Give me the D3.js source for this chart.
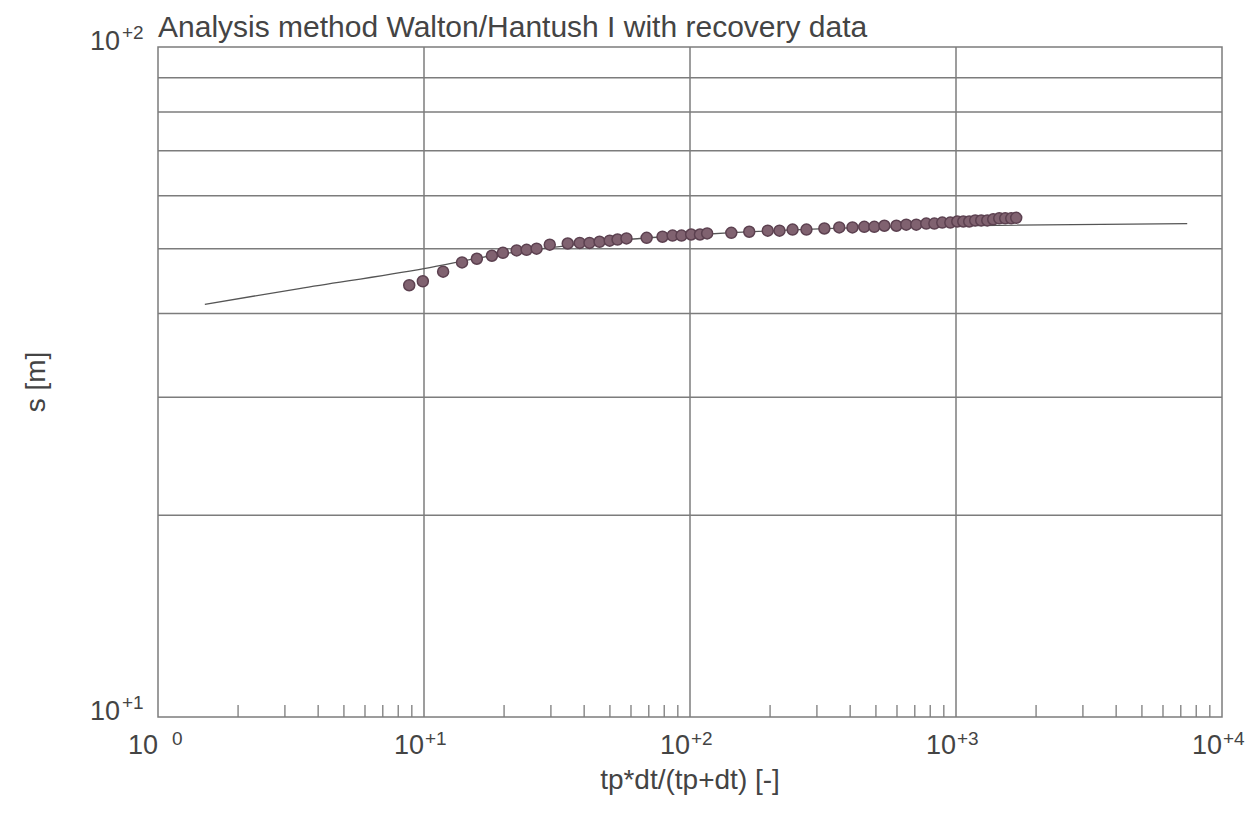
<!DOCTYPE html>
<html lang="en">
<head>
<meta charset="utf-8">
<title>Walton/Hantush I recovery</title>
<script src="https://d3js.org/d3.v7.min.js"></script>
<style>
body { margin: 0; background: #fff; }
text { font-family: "Liberation Sans", Arial, Helvetica, sans-serif; fill: #444; }
</style>
</head>
<body>
<script>
var w = 1257, h = 813;
var margin = {top: 47, right: 35, bottom: 96, left: 158};

// observed recovery data: tp*dt/(tp+dt) [-] vs s [m]
var obsX = [8.8, 9.9, 11.8, 13.9, 15.8, 18.0, 19.8, 22.3, 24.3, 26.5,
            29.7, 34.7, 38.5, 41.9, 45.7, 49.9, 53.4, 57.7, 68.7, 78.8,
            86.0, 92.9, 101, 109, 116, 143, 167, 196, 217, 243,
            274, 320, 364, 408, 452, 493, 538, 597, 650, 709,
            773, 829, 888, 952, 1011, 1065, 1121, 1181, 1244, 1311,
            1380, 1454, 1531, 1613, 1684];
var obsS = [44.1, 44.7, 46.2, 47.7, 48.3, 48.8, 49.3, 49.7, 49.8, 50.0,
            50.7, 50.9, 51.0, 51.0, 51.2, 51.4, 51.6, 51.8, 51.9, 52.1,
            52.3, 52.3, 52.5, 52.5, 52.7, 52.8, 53.0, 53.2, 53.2, 53.4,
            53.4, 53.6, 53.8, 53.8, 53.9, 53.9, 54.1, 54.1, 54.3, 54.3,
            54.5, 54.5, 54.7, 54.7, 54.9, 54.9, 54.9, 55.1, 55.1, 55.1,
            55.3, 55.5, 55.5, 55.5, 55.6];

// fitted type curve
var fitX = [1.5, 3.4, 10, 19, 30, 46, 110, 260, 1000, 7400];
var fitS = [41.3, 43.6, 46.7, 49.0, 50.2, 51.2, 52.5, 53.4, 54.1, 54.5];

// axis decades and their exponent labels
var xDecades = [1, 10, 100, 1000, 10000];
var xExp = ["0", "+1", "+2", "+3", "+4"];
var yDecades = [10, 100];
var yExp = ["+1", "+2"];

var svg = d3.select("body").append("svg")
    .attr("width", w)
    .attr("height", h);

var x = d3.scaleLog().domain([1, 10000]).range([margin.left, w - margin.right]);
var y = d3.scaleLog().domain([10, 100]).range([h - margin.bottom, margin.top]);

var gridCol = "#7c7c7c";

// horizontal grid at every 10..100 step
svg.append("g").selectAll("line")
    .data(y.ticks().filter(function(d){ return d > 10 && d < 100; }))
    .enter().append("line")
    .attr("x1", x.range()[0]).attr("x2", x.range()[1])
    .attr("y1", function(d){ return y(d); })
    .attr("y2", function(d){ return y(d); })
    .attr("stroke", gridCol).attr("stroke-width", 1.5);

// vertical grid at decades
svg.append("g").selectAll("line")
    .data(xDecades.slice(1, -1))
    .enter().append("line")
    .attr("x1", function(d){ return x(d); })
    .attr("x2", function(d){ return x(d); })
    .attr("y1", y.range()[0]).attr("y2", y.range()[1])
    .attr("stroke", gridCol).attr("stroke-width", 1.5);

// minor ticks on bottom axis
svg.append("g").selectAll("line")
    .data(x.ticks().filter(function(d){ return xDecades.indexOf(d) < 0; }))
    .enter().append("line")
    .attr("x1", function(d){ return x(d); })
    .attr("x2", function(d){ return x(d); })
    .attr("y1", y.range()[0]).attr("y2", y.range()[0] - 12)
    .attr("stroke", gridCol).attr("stroke-width", 1.3);

// frame
svg.append("rect")
    .attr("x", x.range()[0]).attr("y", y.range()[1])
    .attr("width", x.range()[1] - x.range()[0])
    .attr("height", y.range()[0] - y.range()[1])
    .attr("fill", "none").attr("stroke", gridCol).attr("stroke-width", 1.5);

// fitted curve
var fit = fitX.map(function(d, i){ return [d, fitS[i]]; });
svg.append("path")
    .datum(fit)
    .attr("fill", "none")
    .attr("stroke", "#555")
    .attr("stroke-width", 1.3)
    .attr("d", d3.line()
        .x(function(d){ return x(d[0]); })
        .y(function(d){ return y(d[1]); })
        .curve(d3.curveMonotoneX));

// observed points
svg.append("g").selectAll("circle")
    .data(obsX.map(function(d, i){ return [d, obsS[i]]; }))
    .enter().append("circle")
    .attr("cx", function(d){ return x(d[0]); })
    .attr("cy", function(d){ return y(d[1]); })
    .attr("r", 5.5)
    .attr("fill", "#806270")
    .attr("stroke", "#5c4150")
    .attr("stroke-width", 1.5);

// x tick labels: "10" ends at the tick, exponent starts there
var xl = svg.append("g").selectAll("text")
    .data(xDecades)
    .enter().append("text")
    .attr("font-size", 27);
xl.append("tspan")
    .attr("x", function(d){ return x(d); })
    .attr("y", y.range()[0] + 37)
    .attr("text-anchor", "end")
    .text("10");
xl.append("tspan")
    .attr("x", function(d, i){ return x(d) + (xExp[i].length == 1 ? 14 : 1); })
    .attr("y", y.range()[0] + 28)
    .attr("font-size", 19)
    .text(function(d, i){ return xExp[i]; });

// y tick labels
var yl = svg.append("g").selectAll("text")
    .data(yDecades)
    .enter().append("text")
    .attr("font-size", 27);
yl.append("tspan")
    .attr("x", 120)
    .attr("y", function(d){ return y(d) + 3; })
    .attr("text-anchor", "end")
    .text("10");
yl.append("tspan")
    .attr("x", 122)
    .attr("y", function(d){ return y(d) - 8; })
    .attr("font-size", 19)
    .text(function(d, i){ return yExp[i]; });

// titles
svg.append("text")
    .attr("x", margin.left)
    .attr("y", 37)
    .attr("font-size", 30)
    .text("Analysis method Walton/Hantush I with recovery data");

svg.append("text")
    .attr("x", (x.range()[0] + x.range()[1]) / 2)
    .attr("y", 789)
    .attr("text-anchor", "middle")
    .attr("font-size", 28)
    .text("tp*dt/(tp+dt) [-]");

svg.append("text")
    .attr("transform", "translate(45," + ((y.range()[0] + y.range()[1]) / 2) + ") rotate(-90)")
    .attr("text-anchor", "middle")
    .attr("font-size", 28)
    .text("s [m]");
</script>
</body>
</html>
